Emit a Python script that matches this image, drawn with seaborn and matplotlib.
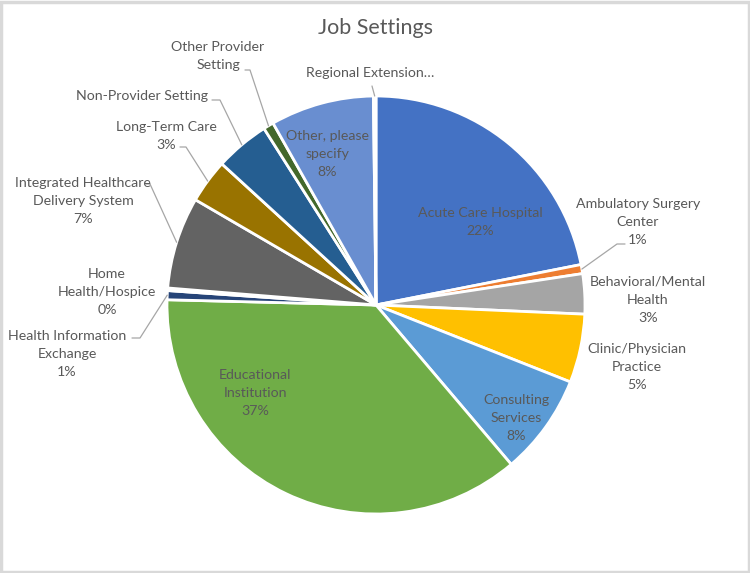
import numpy as np
import matplotlib.pyplot as plt
import matplotlib.patches as mpatches
import seaborn as sns

# Datos del gráfico (porcentajes)
categorias = ["Acute Care Hospital", "Ambulatory Surgery Center", "Behavioral/Mental Health",
              "Clinic/Physician Practice", "Consulting Services", "Educational Institution",
              "Health Information Exchange", "Home Health/Hospice",
              "Integrated Healthcare Delivery System", "Long-Term Care", "Non-Provider Setting",
              "Other Provider Setting", "Other, please specify", "Regional Extension..."]
valores = [21.9, 0.7, 3.1, 5.3, 7.8, 36.6, 0.7, 0.2, 7.1, 3.4, 4.2, 0.8, 8.0, 0.2]

# Texto de las etiquetas tal como aparece
etiquetas = ["Acute Care Hospital", "Ambulatory Surgery\nCenter", "Behavioral/Mental\nHealth",
             "Clinic/Physician\nPractice", "Consulting\nServices", "Educational\nInstitution",
             "Health Information\nExchange", "Home\nHealth/Hospice",
             "Integrated Healthcare\nDelivery System", "Long-Term Care", "Non-Provider Setting",
             "Other Provider\nSetting", "Other, please\nspecify", "Regional Extension\u2026"]
mostrar_pct = [True, True, True, True, True, True, True, True, True, True, False, False, True, False]

colores = ["#4472C4", "#ED7D31", "#A5A5A5", "#FFC000", "#5B9BD5", "#70AD47", "#264478",
           "#9E480E", "#636363", "#997300", "#255E91", "#43682B", "#698ED0", "#F1975A"]

# Geometría en píxeles de la imagen
CX, CY, R = 376, 305, 209


def px(x, y):
    return (x - CX) / R, (CY - y) / R


# Posición de cada etiqueta (centro del texto, en píxeles) y punto de quiebre de la guía
pos_etiqueta = {
    0: (480, 222), 1: (638, 222), 2: (648, 300), 3: (637, 367), 4: (516, 418),
    5: (255, 393), 6: (67, 354), 7: (107, 292), 8: (83, 201), 9: (166, 136),
    10: (142, 96), 11: (218, 56), 12: (327, 154), 13: (370, 73),
}
guias = {
    1: [(625, 244), (617, 244)],
    6: [(132, 338), (140, 338)],
    8: [(146, 184), (150, 184)],
    9: [(180, 147), (186, 147)],
    10: [(212, 100), (220, 100)],
    11: [(245, 70), (250, 70)],
    13: [(372, 86)],
}

sns.set_theme(style="white")
plt.rcParams['font.family'] = ['Lato', 'DejaVu Sans']
gris = "#595959"

fig = plt.figure(figsize=(7.5, 5.73), dpi=100)
ax = fig.add_axes([0, 0, 1, 1])

wedges, _ = ax.pie(valores, colors=colores, startangle=90, counterclock=False, radius=1,
                   wedgeprops=dict(edgecolor="white", linewidth=2))

ax.set_xlim(-CX / R, (750 - CX) / R)
ax.set_ylim(-(573 - CY) / R, CY / R)
ax.set_aspect("equal", adjustable="box")
ax.axis("off")

total = sum(valores)
for i, w in enumerate(wedges):
    texto = etiquetas[i]
    if mostrar_pct[i]:
        texto += f"\n{round(valores[i] / total * 100):.0f}%"
    x, y = px(*pos_etiqueta[i])
    ax.text(x, y, texto, ha="center", va="center", fontsize=10.2, color=gris, linespacing=1.6)
    if i in guias:
        ang = np.deg2rad((w.theta1 + w.theta2) / 2)
        borde = (np.cos(ang), np.sin(ang))
        pts = [px(*p) for p in guias[i]] + [borde]
        ax.plot([p[0] for p in pts], [p[1] for p in pts], color="#A6A6A6", linewidth=0.9)

fig.text(375 / 750, 1 - 28 / 573, "Job Settings", ha="center", va="center",
         fontsize=15.5, color=gris)

# Marco gris claro alrededor del gráfico
fig.patches.append(mpatches.Rectangle((0.001, 0.002), 0.997, 0.995, transform=fig.transFigure,
                                      fill=False, edgecolor="#D9D9D9", linewidth=2.5))

fig.savefig("out.png", dpi=100)
